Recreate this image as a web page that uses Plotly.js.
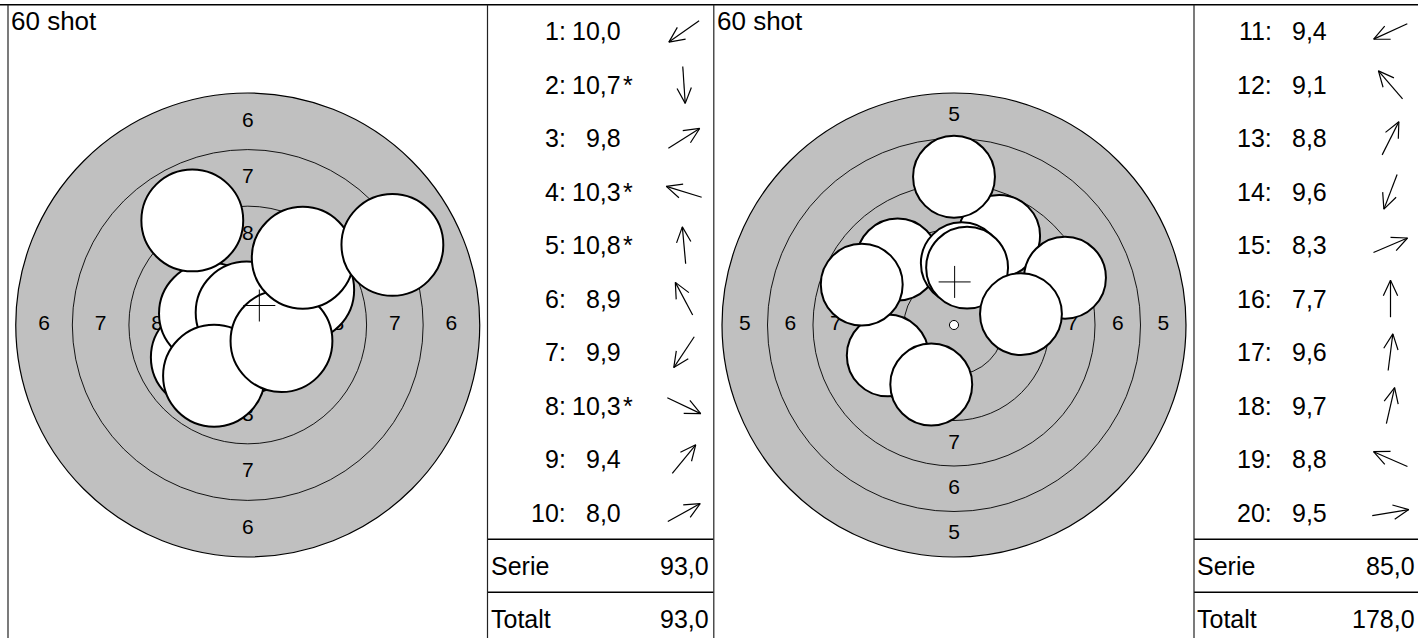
<!DOCTYPE html>
<html>
<head>
<meta charset="utf-8">
<script src="https://cdn.plot.ly/plotly-3.0.1.min.js"></script>
<style>html,body{margin:0;padding:0;background:#fff;}#chart{width:1418px;height:638px;}</style>
</head>
<body>
<div id="chart"></div>
<script>
// ---------------- DATA ----------------
const panelTitle = "60 shot";
const serieLabel = "Serie";
const totalLabel = "Totalt";

// Series 1 (shots 1-10)
const shotNo1   = [1, 2, 3, 4, 5, 6, 7, 8, 9, 10];
const scores1   = [10.0, 10.7, 9.8, 10.3, 10.8, 8.9, 9.9, 10.3, 9.4, 8.0];
const inner1    = [false, true, false, true, true, false, false, true, false, false];
const shotX1    = [-2.03, 0.05, 2.45, -1.67, -0.05, -2.45, -1.49, 1.49, 2.43, 6.39];   // mm, right +
const shotY1    = [-1.43, -0.75, 1.55, 0.51, 0.55, 4.62, -2.24, -0.71, 2.97, 3.54];   // mm, up +
const outerRing1 = 6;

// Series 2 (shots 11-20)
const shotNo2   = [11, 12, 13, 14, 15, 16, 17, 18, 19, 20];
const scores2   = [9.4, 9.1, 8.8, 9.6, 8.3, 7.7, 9.6, 9.7, 8.8, 9.5];
const inner2    = [false, false, false, false, false, false, false, false, false, false];
const shotX2    = [-3.64, -3.10, 2.48, -1.25, 6.10, 0.00, 0.43, 0.72, -5.07, 3.68];
const shotY2    = [-1.67, 3.60, 4.90, -3.27, 2.60, 8.15, 3.39, 3.15, 2.22, 0.60];
const outerRing2 = 5;

const labelRingMax = 8;       // ring numbers printed on the target
const pelletRadius = 2.25;    // mm (4.5 mm pellet)

// ---------------- LAYOUT CONSTANTS ----------------
const W = 1418, H = 638;
const FONT = "Liberation Sans, Arial, Helvetica, sans-serif";
const panelTop = 4.7, fullBottom = 645.3;
const tableSplit1 = 539.3, tableSplit2 = 592.3;
const outerPx = 232;
const ringR = n => 0.25 + (10 - n) * 2.5;
const fmt = v => v.toFixed(1).replace('.', ',');

const panels = [
  {x0: 8,   x1: 487.5, t0: 487.5, t1: 713.5, xa: 'x',  ya: 'y',  no: shotNo1, sc: scores1, inn: inner1, sx: shotX1, sy: shotY1, outer: outerRing1},
  {x0: 714, x1: 1194,  t0: 1194,  t1: 1420,  xa: 'x2', ya: 'y2', no: shotNo2, sc: scores2, inn: inner2, sx: shotX2, sy: shotY2, outer: outerRing2}
];

const traces = [];
const shapesBelow = [];
const shapesAbove = [];
const annotations = [];
const layout = {
  width: W, height: H,
  margin: {l: 0, r: 0, t: 0, b: 0},
  paper_bgcolor: '#ffffff',
  plot_bgcolor: 'rgba(0,0,0,0)',
  showlegend: false,
  hovermode: false,
  font: {family: FONT, color: '#000'}
};

const cy = (panelTop + fullBottom) / 2;
let runningTotal = 0;

panels.forEach((p, pi) => {
  const idx = pi === 0 ? '' : '2';
  const cx = (p.x0 + p.x1) / 2;
  const s = outerPx / ringR(p.outer);
  layout['xaxis' + idx] = {domain: [p.x0 / W, p.x1 / W], range: [(p.x0 - cx) / s, (p.x1 - cx) / s],
    visible: false, fixedrange: true, anchor: 'y' + idx};
  layout['yaxis' + idx] = {domain: [0, (H - panelTop) / H], range: [-(H - cy) / s, (cy - panelTop) / s],
    visible: false, fixedrange: true, anchor: 'x' + idx};

  // target disk and rings
  const R0 = ringR(p.outer);
  shapesBelow.push({type: 'circle', xref: p.xa, yref: p.ya, layer: 'below',
    x0: -R0, x1: R0, y0: -R0, y1: R0, fillcolor: '#c0c0c0', line: {color: '#000', width: 1.2}});
  for (let n = p.outer + 1; n <= 9; n++) {
    const r = ringR(n);
    shapesBelow.push({type: 'circle', xref: p.xa, yref: p.ya, layer: 'below',
      x0: -r, x1: r, y0: -r, y1: r, fillcolor: 'rgba(0,0,0,0)', line: {color: '#000', width: 0.9}});
  }
  const r10 = ringR(10);
  shapesBelow.push({type: 'circle', xref: p.xa, yref: p.ya, layer: 'below',
    x0: -r10, x1: r10, y0: -r10, y1: r10, fillcolor: '#fff', line: {color: '#000', width: 1}});

  // ring numbers
  const lx = [], ly = [], lt = [];
  for (let n = p.outer; n <= labelRingMax; n++) {
    const m = (ringR(n) + ringR(n + 1)) / 2;
    [[0, m], [0, -m], [-m, 0], [m, 0]].forEach(([a, b]) => { lx.push(a); ly.push(b); lt.push(String(n)); });
  }
  traces.push({type: 'scatter', mode: 'text', x: lx, y: ly, text: lt, xaxis: p.xa, yaxis: p.ya,
    textposition: 'middle center', textfont: {family: FONT, size: 21, color: '#000'}, hoverinfo: 'skip'});

  // shots
  p.sx.forEach((x, i) => {
    const y = p.sy[i];
    shapesAbove.push({type: 'circle', xref: p.xa, yref: p.ya, layer: 'above',
      x0: x - pelletRadius, x1: x + pelletRadius, y0: y - pelletRadius, y1: y + pelletRadius,
      fillcolor: '#fff', line: {color: '#000', width: 2}});
  });

  // mean point of impact crosshair
  const mx = p.sx.reduce((a, b) => a + b, 0) / p.sx.length;
  const my = p.sy.reduce((a, b) => a + b, 0) / p.sy.length;
  shapesAbove.push({type: 'line', xref: p.xa, yref: p.ya, layer: 'above', xsizemode: 'pixel', ysizemode: 'pixel',
    xanchor: mx, yanchor: my, x0: -16, x1: 16, y0: 0, y1: 0, line: {color: '#000', width: 1}});
  shapesAbove.push({type: 'line', xref: p.xa, yref: p.ya, layer: 'above', xsizemode: 'pixel', ysizemode: 'pixel',
    xanchor: mx, yanchor: my, x0: 0, x1: 0, y0: -16, y1: 16, line: {color: '#000', width: 1}});

  // panel title
  annotations.push({xref: 'x3', yref: 'y3', x: p.x0 + 0.5, y: 21, xanchor: 'left', yanchor: 'middle',
    text: panelTitle, showarrow: false, font: {family: FONT, size: 26, color: '#000'}});

  // table
  const rowH = (tableSplit1 - panelTop) / p.no.length;
  const ax = [], ay = [];
  const L = 37, B = 17, BA = 25 * Math.PI / 180;
  p.no.forEach((n, i) => {
    const ry = panelTop + (i + 0.5) * rowH;
    annotations.push({xref: 'x3', yref: 'y3', x: p.t0 + 80, y: ry, xanchor: 'right', yanchor: 'middle',
      text: n + ':', showarrow: false, font: {family: FONT, size: 25, color: '#000'}});
    annotations.push({xref: 'x3', yref: 'y3', x: p.t0 + 135, y: ry, xanchor: 'right', yanchor: 'middle',
      text: fmt(p.sc[i]), showarrow: false, font: {family: FONT, size: 25, color: '#000'}});
    if (p.inn[i]) {
      annotations.push({xref: 'x3', yref: 'y3', x: p.t0 + 133, y: ry, xanchor: 'left', yanchor: 'middle',
        text: '*', showarrow: false, font: {family: FONT, size: 25, color: '#000'}});
    }
    // direction arrow (from target centre towards the shot)
    const th = Math.atan2(p.sy[i], p.sx[i]);
    const ux = Math.cos(th), uy = -Math.sin(th);
    const acx = p.t0 + 196.5;
    const tx = acx + ux * L / 2, ty = ry + uy * L / 2;
    const bx = acx - ux * L / 2, by = ry - uy * L / 2;
    const rot = a => [-(ux * Math.cos(a) - uy * Math.sin(a)), -(ux * Math.sin(a) + uy * Math.cos(a))];
    const b1 = rot(BA), b2 = rot(-BA);
    ax.push(bx, tx, null, tx + b1[0] * B, tx, tx + b2[0] * B, null);
    ay.push(by, ty, null, ty + b1[1] * B, ty, ty + b2[1] * B, null);
  });
  traces.push({type: 'scatter', mode: 'lines', x: ax, y: ay, xaxis: 'x3', yaxis: 'y3',
    line: {color: '#000', width: 1.2}, hoverinfo: 'skip', connectgaps: false});

  const serie = p.sc.reduce((a, v) => a + Math.floor(v + 1e-9), 0);
  runningTotal += serie;
  const r1 = (tableSplit1 + tableSplit2) / 2, r2 = (tableSplit2 + fullBottom) / 2;
  annotations.push({xref: 'x3', yref: 'y3', x: p.t0 + 1, y: r1, xanchor: 'left', yanchor: 'middle',
    text: serieLabel, showarrow: false, font: {family: FONT, size: 25, color: '#000'}});
  annotations.push({xref: 'x3', yref: 'y3', x: p.t1 - 3, y: r1, xanchor: 'right', yanchor: 'middle',
    text: fmt(serie), showarrow: false, font: {family: FONT, size: 25, color: '#000'}});
  annotations.push({xref: 'x3', yref: 'y3', x: p.t0 + 1, y: r2, xanchor: 'left', yanchor: 'middle',
    text: totalLabel, showarrow: false, font: {family: FONT, size: 25, color: '#000'}});
  annotations.push({xref: 'x3', yref: 'y3', x: p.t1 - 3, y: r2, xanchor: 'right', yanchor: 'middle',
    text: fmt(runningTotal), showarrow: false, font: {family: FONT, size: 25, color: '#000'}});

  // table horizontal lines
  [tableSplit1, tableSplit2].forEach(yy => shapesAbove.push({type: 'line', xref: 'x3', yref: 'y3', layer: 'above',
    x0: p.t0, x1: p.t1, y0: yy, y1: yy, line: {color: '#000', width: 1.4}}));
});

// pixel overlay axis for table / frame
layout.xaxis3 = {domain: [0, 1], range: [0, W], visible: false, fixedrange: true, anchor: 'y3'};
layout.yaxis3 = {domain: [0, 1], range: [H, 0], visible: false, fixedrange: true, anchor: 'x3'};

// frame lines
shapesAbove.push({type: 'line', xref: 'x3', yref: 'y3', x0: 0, x1: W, y0: panelTop, y1: panelTop, line: {color: '#000', width: 1.6}});
[8, 487.5, 713.8, 1194].forEach(xx => shapesAbove.push({type: 'line', xref: 'x3', yref: 'y3',
  x0: xx, x1: xx, y0: panelTop, y1: H, line: {color: '#222', width: 1.2}}));

layout.shapes = shapesBelow.concat(shapesAbove);
layout.annotations = annotations;

Plotly.newPlot('chart', traces, layout, {staticPlot: true, displayModeBar: false});
</script>
</body>
</html>
